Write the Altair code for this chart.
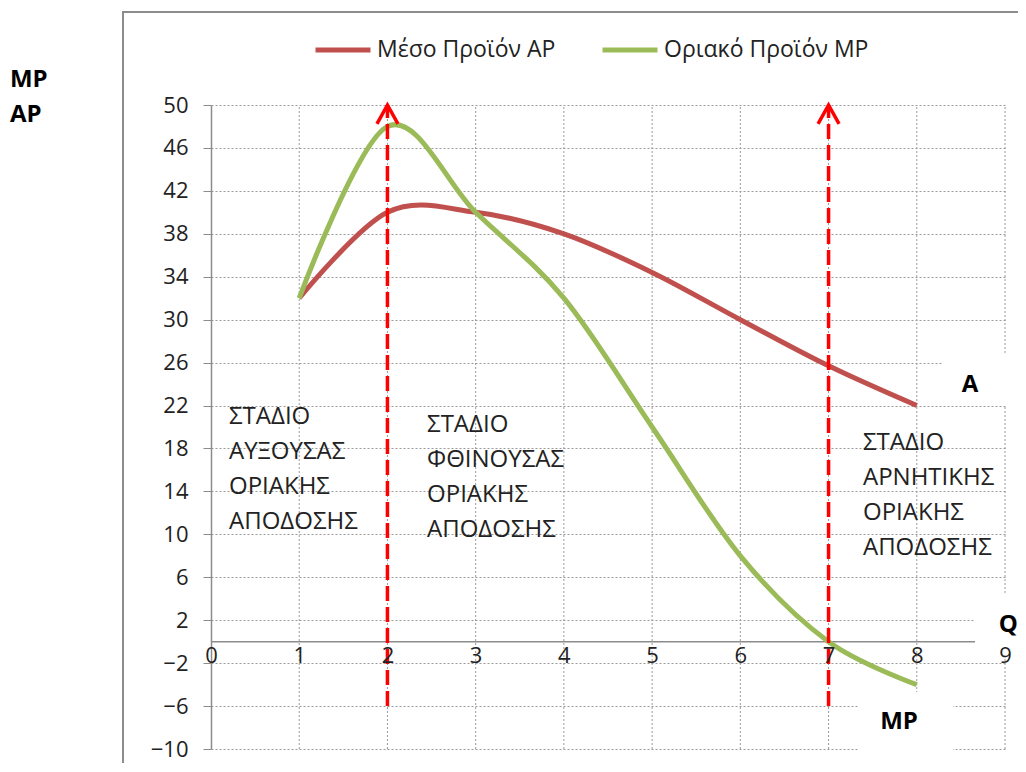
import altair as alt
import pandas as pd

# ---------------- data ----------------
quantity = [1, 2, 3, 4, 5, 6, 7, 8]
ap_values = [32, 40, 40, 38, 34.4, 30, 25.7, 22]
mp_values = [32, 48, 40, 32, 20, 8, 0, -4]

AP_NAME = "Μέσο Προϊόν AP"
MP_NAME = "Οριακό Προϊόν MP"
series_names = [AP_NAME, MP_NAME]
series_colors = ["#C0504D", "#9BBB59"]

x_ticks = list(range(0, 10))
y_ticks = list(range(-10, 51, 4))

stage_boundaries = [2, 7]
stage_labels = [
    "ΣΤΑΔΙΟ\nΑΥΞΟΥΣΑΣ\nΟΡΙΑΚΗΣ\nΑΠΟΔΟΣΗΣ",
    "ΣΤΑΔΙΟ\nΦΘΙΝΟΥΣΑΣ\nΟΡΙΑΚΗΣ\nΑΠΟΔΟΣΗΣ",
    "ΣΤΑΔΙΟ\nΑΡΝΗΤΙΚΗΣ\nΟΡΙΑΚΗΣ\nΑΠΟΔΟΣΗΣ",
]
axis_labels = ["MP", "AP", "A", "Q", "MP"]

FONT = "Open Sans"
GRID = "#9a9a9a"
AXIS = "#8c8c8c"

# ---------------- tables ----------------
curves = pd.DataFrame({
    "q": quantity * 2,
    "value": ap_values + mp_values,
    "series": [AP_NAME] * len(quantity) + [MP_NAME] * len(quantity),
})
stages = pd.DataFrame({"q": stage_boundaries})
vgrid_df = pd.DataFrame({"q": x_ticks[1:]})
stage_text = pd.DataFrame({
    "q": [0.204, 2.449, 7.39],
    "v": [20.93, 20.19, 18.51],
    "label": stage_labels,
})
bold_text = pd.DataFrame({
    "q": [-2.279, -2.279, 8.51, 8.93, 7.585],
    "v": [52.33, 49.07, 23.9, 1.55, -7.5],
    "label": axis_labels,
})
boxes = pd.DataFrame({
    "x1": [8.29, 8.66, 7.34],
    "x2": [9.3, 9.3, 8.41],
    "y1": [26.7, 4.53, -4.69],
    "y2": [22.05, -1.24, -11.0],
})

xs = alt.Scale(domain=[0, 9], nice=False, zero=False)
ys = alt.Scale(domain=[-10, 50], nice=False, zero=False)

x_axis = alt.Axis(values=x_ticks, format="d", title=None, offset=-107.33, domain=False,
                  ticks=False, tickSize=0, labelPadding=4, labelFontSize=22,
                  labelFont=FONT, labelColor="#222", grid=False, zindex=1,
                  labelFlush=False, labelOverlap=False)
y_axis = alt.Axis(values=y_ticks, format="d", title=None, tickSize=8, tickColor=AXIS,
                  domainColor=AXIS, domainWidth=1.5, labelPadding=15,
                  labelFontSize=22, labelFont=FONT, labelColor="#222",
                  grid=True, gridColor=GRID, gridDash=[2, 2],
                  labelFlush=False, labelOverlap=False)

frame = alt.Chart(pd.DataFrame({"a": [0]})).mark_rect(
    fillOpacity=0, stroke=AXIS, strokeWidth=2
).encode(x=alt.value(-88), x2=alt.value(900), y=alt.value(-93), y2=alt.value(900))

vgrid = alt.Chart(vgrid_df).mark_rule(color=GRID, strokeDash=[2, 2], strokeWidth=1).encode(
    x=alt.X("q:Q", scale=xs, title=None), y=alt.datum(-10), y2=alt.datum(50)
)

zero_line = alt.Chart(pd.DataFrame({"a": [0]})).mark_rule(color=AXIS, strokeWidth=1.5).encode(
    x=alt.datum(0), x2=alt.datum(9), y=alt.datum(0)
)

white_boxes = alt.Chart(boxes).mark_rect(color="white").encode(
    x=alt.X("x1:Q", title=None), x2="x2", y=alt.Y("y1:Q", title=None), y2="y2"
)

lines = alt.Chart(curves).mark_line(interpolate="cardinal", strokeWidth=5).encode(
    x=alt.X("q:Q", scale=xs, axis=x_axis, title=None),
    y=alt.Y("value:Q", scale=ys, axis=y_axis, title=None),
    color=alt.Color(
        "series:N",
        scale=alt.Scale(domain=series_names, range=series_colors),
        legend=alt.Legend(
            title=None, orient="none", legendX=102, legendY=-85,
            direction="horizontal", symbolType="stroke", symbolStrokeWidth=5,
            symbolSize=3025, labelFontSize=23, labelFont=FONT, labelColor="#222",
            labelLimit=400, columnPadding=36, labelOffset=4, padding=0,
        ),
    ),
)

stage_rules = alt.Chart(stages).mark_rule(color="#FF0000", strokeWidth=3.5, strokeDash=[15, 6]).encode(
    x=alt.X("q:Q", title=None), y=alt.datum(-6), y2=alt.datum(50)
)

arrows = alt.Chart(stages).mark_point(
    shape="M-1,1.8L0,0L1,1.8", size=441, filled=False, color="#FF0000",
    strokeWidth=3.5, opacity=1
).encode(x=alt.X("q:Q", title=None), y=alt.datum(50))

stage_txt = alt.Chart(stage_text).mark_text(
    align="left", baseline="middle", lineBreak="\n", fontSize=24, font=FONT,
    color="#222", lineHeight=35
).encode(x=alt.X("q:Q", title=None), y=alt.Y("v:Q", title=None), text="label:N")

bold_txt = alt.Chart(bold_text).mark_text(
    align="left", baseline="middle", fontSize=24, fontWeight="bold", font=FONT,
    color="black"
).encode(x=alt.X("q:Q", title=None), y=alt.Y("v:Q", title=None), text="label:N")

chart = alt.layer(
    frame, vgrid, zero_line, white_boxes, lines, stage_rules, arrows, stage_txt, bold_txt
).properties(
    width=794, height=644,
    autosize=alt.AutoSizeParams(type="none"),
    padding={"left": 203, "top": 97, "right": 13, "bottom": 14},
).configure_view(stroke=None)

chart.save("out.html", embed_options={"renderer": "svg", "actions": False})
